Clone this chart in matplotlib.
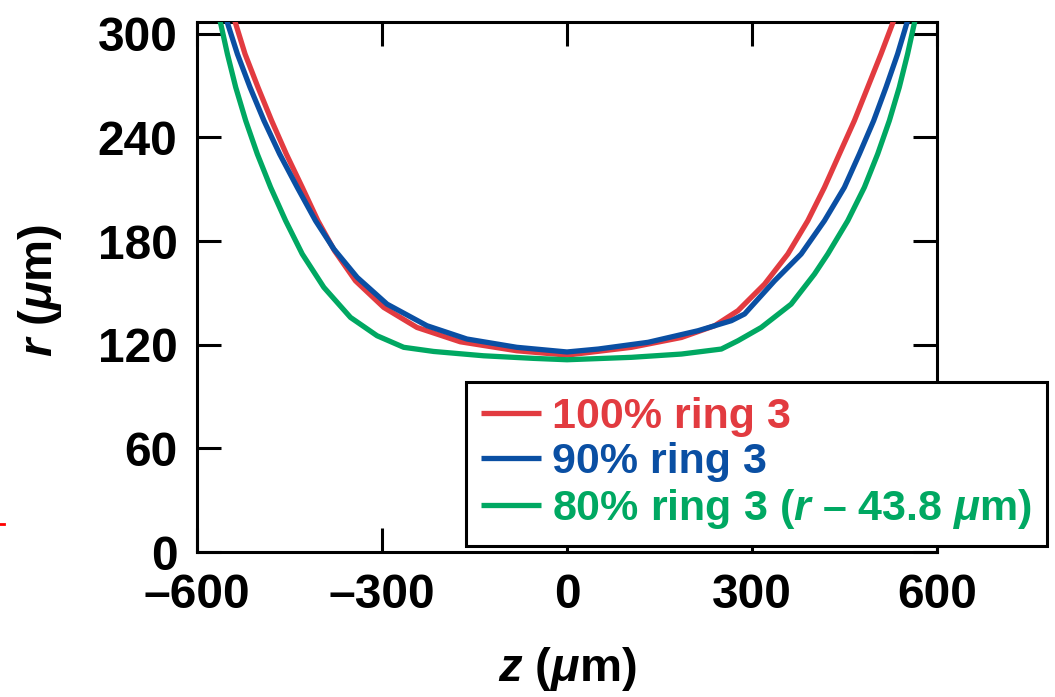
import matplotlib
matplotlib.use("Agg")
import matplotlib.pyplot as plt
from matplotlib.lines import Line2D

plt.rcParams['font.family'] = ['Liberation Sans', 'DejaVu Sans']
plt.rcParams['font.weight'] = 'bold'
plt.rcParams['mathtext.fontset'] = 'custom'
plt.rcParams['mathtext.rm'] = 'Liberation Sans:bold'
plt.rcParams['mathtext.it'] = 'Liberation Sans:bold:italic'
plt.rcParams['mathtext.bf'] = 'Liberation Sans:bold'

# ---- data (z in um, r in um) ----
z_100 = [-538.8, -522.1, -501.1, -479.0, -455.2, -429.3, -404.0, -377.0, -343.0, -297.2,
         -243.3, -173.1, -81.4, 0.0, 104.6, 185.6, 239.5, 277.2, 320.4, 358.1,
         390.5, 417.5, 441.7, 466.0, 487.6, 509.2, 529.7]
r_100 = [307.6, 288.3, 269.0, 249.7, 230.4, 211.1, 191.8, 174.4, 157.0, 141.6,
         130.0, 121.7, 116.5, 114.0, 118.5, 124.2, 131.0, 139.7, 155.1, 172.5,
         191.8, 211.1, 230.4, 249.7, 269.0, 288.3, 307.6]

z_90 = [-551.8, -534.5, -514.0, -491.4, -466.0, -437.4, -407.8, -378.1, -340.3, -291.8,
        -227.1, -162.3, -81.4, 0.0, 50.7, 131.6, 212.5, 266.5, 288.0, 336.6,
        379.7, 417.5, 449.8, 474.1, 497.3, 517.3, 536.1, 552.3]
r_90 = [307.6, 288.3, 269.0, 249.7, 230.4, 211.1, 191.8, 175.4, 159.0, 143.5,
        131.0, 123.3, 118.5, 115.8, 117.5, 121.4, 128.1, 133.9, 137.8, 157.0,
        172.5, 191.8, 211.1, 230.4, 249.7, 269.0, 288.3, 307.6]

z_80 = [-562.6, -550.7, -537.2, -521.0, -502.2, -480.6, -456.3, -429.3, -394.3, -351.1,
        -308.0, -264.8, -216.3, -135.4, -54.5, 0.0, 104.6, 185.6, 250.3, 277.2,
        315.0, 363.5, 401.3, 422.9, 455.3, 482.2, 503.8, 522.7, 538.8, 552.3, 564.2]
r_80 = [307.6, 288.3, 269.0, 249.7, 230.4, 211.1, 191.8, 172.5, 153.2, 135.8,
        125.2, 118.5, 116.1, 113.6, 112.1, 111.3, 112.7, 114.6, 117.5, 122.3,
        130.0, 143.5, 160.9, 172.5, 191.8, 211.1, 230.4, 249.7, 269.0, 288.3, 307.6]

labels = ['100% ring 3', '90% ring 3', r'80% ring 3 ($r$ – 43.8 $\mu$m)']
colors = ['#E23B40', '#0A4FA3', '#00A862']
x_ticks = [-600, -300, 0, 300, 600]
x_ticklabels = ['–600', '–300', '0', '300', '600']
y_ticks = [0, 60, 120, 180, 240, 300]

fig = plt.figure(figsize=(10.55, 6.97), dpi=100)
ax = fig.add_axes([197/1055, 1-552/697, (937-197)/1055, (552-21.7)/697])

for z, r, c, lab in zip([z_100, z_90, z_80], [r_100, r_90, r_80], colors, labels):
    ax.plot(z, r, color=c, lw=3.8, label=lab, solid_capstyle='butt',
            solid_joinstyle='round', zorder=3)

ax.set_xlim(-600, 600)
ax.set_ylim(0, 307)
ax.set_xticks(x_ticks)
ax.set_xticklabels(x_ticklabels)
ax.set_yticks(y_ticks)
for s in ax.spines.values():
    s.set_linewidth(2.2)
ax.tick_params(direction='in', length=17, width=2.2, top=True, right=True,
               labelsize=34.5)
ax.tick_params(axis='y', pad=14)
ax.tick_params(axis='x', pad=15)
for t in ax.get_xticklabels() + ax.get_yticklabels():
    t.set_fontweight('bold')

ax.set_xlabel(r'$z$ ($\mu$m)', fontsize=34, fontweight='bold')
ax.set_ylabel(r'$r$ ($\mu$m)', fontsize=34, fontweight='bold')
ax.xaxis.set_label_coords(0.5, -0.175)
ax.yaxis.set_label_coords(-0.18, 0.494)

leg = ax.legend(loc='upper left', bbox_to_anchor=(466/1055, 1-382/697),
                bbox_transform=fig.transFigure, borderaxespad=0,
                frameon=True, fancybox=False, framealpha=1,
                edgecolor='black', handlelength=1.4, handletextpad=0.25,
                labelspacing=0.12, borderpad=0.35, prop={'weight': 'bold', 'size': 31})
leg.get_frame().set_linewidth(2.2)
for txt, c in zip(leg.get_texts(), colors):
    txt.set_color(c)

fig.add_artist(Line2D([0, 0.004], [1-524/697]*2, color='red', lw=2))

fig.savefig('out.png', dpi=100)
